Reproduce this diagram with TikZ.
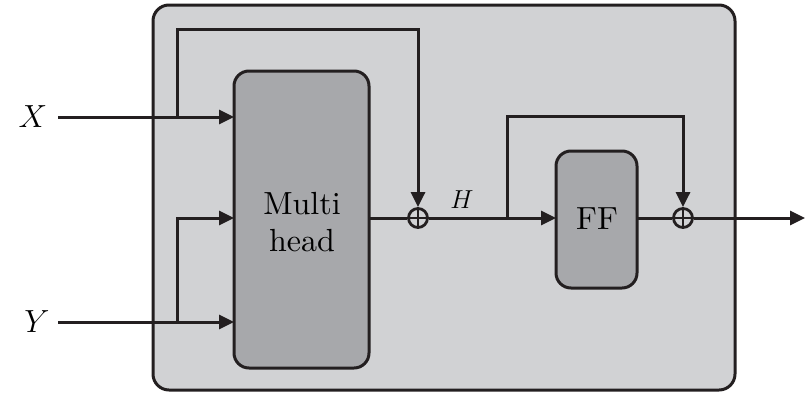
\RequirePackage{fix-cm}
\documentclass[tikz,border=0pt]{standalone}
\usepackage{fontspec}
\newfontfamily\lmten{lmroman10-regular.otf}
\usetikzlibrary{arrows.meta}
\definecolor{outerfill}{HTML}{D1D2D4}
\definecolor{boxfill}{HTML}{A7A8AB}
\definecolor{ink}{HTML}{231F20}
\begin{document}
\begin{tikzpicture}[x=1pt,y=-1pt,
  line width=3pt, draw=ink,
  tip/.style={-{Triangle[length=15pt,width=14pt]}},
  blk/.style={draw=ink, fill=boxfill, rounded corners=15pt, line width=3pt},
  sumnode/.style={circle, draw=ink, line width=2.8pt, minimum size=19pt, inner sep=0pt, fill=outerfill,
    path picture={\draw[ink,line width=2.4pt] (path picture bounding box.north) -- (path picture bounding box.south)
      (path picture bounding box.west) -- (path picture bounding box.east);}},
  lbl/.style={font=\fontsize{32}{36}\selectfont, inner sep=0pt},
  txt/.style={font=\lmten\fontsize{32}{37}\selectfont, inner sep=0pt}
]
\useasboundingbox (0,0) rectangle (805,394);
\draw[fill=outerfill, rounded corners=16pt] (153,5) rectangle (735,390);
% blocks
\draw[blk] (234,71) rectangle (369,368);
\node[txt, align=center] (mh) at (302,222) {Multi\\head};
\coordinate (mhE) at (369,218);
\coordinate (mhX) at (234,117);
\coordinate (mhH) at (234,218);
\coordinate (mhY) at (234,322);
\draw[blk] (556,151) rectangle (637,288);
\node[txt] (ff) at (597,219) {FF};
\coordinate (ffW) at (556,218);
\coordinate (ffE) at (637,218);
% sums
\node[sumnode] (s1) at (418,218) {};
\node[sumnode] (s2) at (683,218) {};
% inputs
\node[lbl, anchor=center] (X) at (33,117) {$X$};
\node[lbl, anchor=center] (Y) at (37,322) {$Y$};
\coordinate (xs) at (58,117);
\coordinate (ys) at (58,322);
\coordinate (bx) at (177,117);
\coordinate (by) at (177,322);
\draw[tip] (xs) -- (mhX);
\draw[tip] (ys) -- (mhY);
\draw[tip] (by) |- (mhH);
\draw[tip] (bx) |- (300,29) -| (s1.north);
\draw (mhE) -- (s1.west);
\draw[tip] (s1.east) -- (ffW);
\coordinate (bh) at (507,218);
\draw[tip] (bh) |- (600,116) -| (s2.north);
\draw (ffE) -- (s2.west);
\coordinate (out) at (805,218);
\draw[tip] (s2.east) -- (out);
\node[font=\fontsize{26}{28}\selectfont, inner sep=0pt] (H) at (462,200) {$H$};
\end{tikzpicture}
\end{document}
